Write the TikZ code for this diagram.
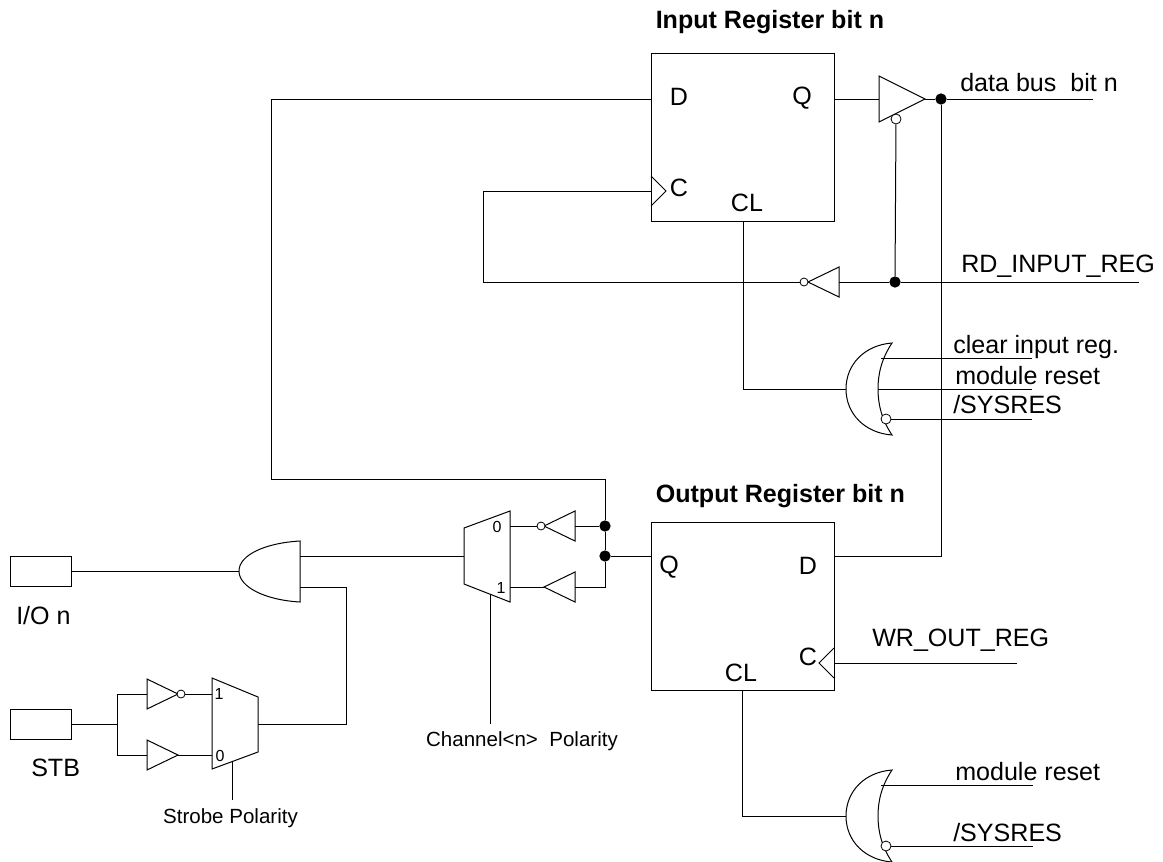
\documentclass[tikz,border=0pt]{standalone}
\usepackage{fontspec}
\setmainfont{Liberation Sans}
\newcommand\tribuf[5]{%
  \coordinate (#1-in) at (#2,#3);
  \coordinate (#1-out) at ({#2+#4},#3);
  \draw[gate] (#2,{#3-#5}) -- (#1-out) -- (#2,{#3+#5}) -- cycle;}
\newcommand\orgate[2]{% name, centre y; half height 46
  \coordinate (#1-out) at (846,#2);
  \coordinate (#1-back) at (878,#2);
  \draw[gate] (892,{#2-46}) .. controls (865,{#2-44}) and (846,{#2-25}) .. (846,#2)
     .. controls (846,{#2+25}) and (865,{#2+44}) .. (892,{#2+46})
     .. controls (882,{#2+31}) and (878,{#2+16}) .. (878,#2)
     .. controls (878,{#2-16}) and (882,{#2-31}) .. (892,{#2-46}) -- cycle;}
\tikzset{
  wire/.style={line width=0.75pt,black},
  gate/.style={line width=0.75pt,black},
  reg/.style={draw,line width=0.75pt,minimum width=137.25pt,minimum height=126pt,inner sep=0pt},
  pad/.style={draw,line width=0.75pt,minimum width=45.75pt,minimum height=22.5pt,inner sep=0pt},
  dot/.style={circle,fill=black,inner sep=0pt,minimum size=8.5pt},
  bub/.style={circle,draw,fill=white,line width=0.6pt,inner sep=0pt,minimum size=6pt},
  bubl/.style={circle,draw,fill=white,line width=0.6pt,inner sep=0pt,minimum size=7.5pt},
  txt/.style={inner sep=0pt,font=\fontsize{18.8}{20}\selectfont},
  ltxt/.style={txt,anchor=west},
  small/.style={inner sep=0pt,font=\fontsize{15.4}{17}\selectfont},
  tiny/.style={inner sep=0pt,font=\fontsize{12}{13}\selectfont},
  title/.style={inner sep=0pt,anchor=west,font=\bfseries\fontsize{18.8}{20}\selectfont},
}
\begin{document}
\begin{tikzpicture}[x=0.75pt,y=-0.75pt]
\useasboundingbox (0,0) rectangle (1163,861);

% registers
\node[reg] (inreg) at (742.5,137) {};
\node[reg] (outreg) at (742.5,606) {};
\node[title] (t1) at (655.5,22.5) {Input Register bit n};
\node[title] (t2) at (655.5,496) {Output Register bit n};
\node[txt] (ld) at (679,97) {D};
\node[txt] (lq) at (802,98) {Q};
\node[txt] (lc) at (679,188) {C};
\node[txt] (lcl) at (747,203) {CL};
\node[txt] (oq) at (669,567) {Q};
\node[txt] (od) at (808,566) {D};
\node[txt] (oc) at (808,657) {C};
\node[txt] (ocl) at (741,673) {CL};

% clock marks
\coordinate (ick) at (651,191);
\coordinate (ock) at (834,663);
\draw[gate] (651,176) -- (666,191) -- (651,206);
\draw[gate] (834,648) -- (819,663) -- (834,678);

% tri-state output driver
\tribuf{drv}{879}{99}{46}{23}
\node[bubl] (drvb) at (896,119) {};
\node[dot] (jbus) at (941,99) {};
\coordinate (busend) at (1093,99);
\draw[wire] (inreg.east |- drv-in) -- (drv-in);
\draw[wire] (drv-out) -- (jbus) -- (busend);
\node[ltxt] (lbus) at (960,83) {data bus\ \ bit n};

% read strobe
\tribuf{rinv}{839}{282}{-31}{15}
\node[bub] (rinvb) at (804,282) {};
\node[dot] (jrd) at (895,282) {};
\coordinate (rdend) at (1139,282);
\coordinate (ckcor) at (483,282);
\coordinate (ckcor2) at (483,191);
\draw[wire] (rinv-in) -- (jrd) -- (rdend);
\draw[wire] (jrd) -- (drvb);
\draw[wire] (rinvb) -- (ckcor) -- (ckcor2) -- (ick);
\node[ltxt] (lrd) at (961,266) {RD\_INPUT\_REG};

% input clear gate
\orgate{or1}{389}
\coordinate (or1a) at (881,358);
\coordinate (or1aend) at (1032,358);
\coordinate (or1bend) at (1032,389);
\coordinate (or1cend) at (1032,419);
\node[bubl] (or1c) at (886,419) {};
\draw[wire] (or1a) -- (or1aend);
\draw[wire] (or1-back) -- (or1bend);
\draw[wire] (or1c) -- (or1cend);
\coordinate (cl1) at (743,221);
\coordinate (cl1b) at (743,389);
\draw[wire] (cl1) -- (cl1b) -- (or1-out);
\node[ltxt] (l1a) at (953,347) {clear input reg.};
\node[ltxt] (l1b) at (955,376) {module reset};
\node[ltxt] (l1c) at (953,405) {/SYSRES};

% output clear gate
\orgate{or2}{816}
\coordinate (or2a) at (881,785);
\coordinate (or2aend) at (1033,785);
\coordinate (or2cend) at (1033,846);
\node[bubl] (or2c) at (886,846) {};
\draw[wire] (or2a) -- (or2aend);
\draw[wire] (or2c) -- (or2cend);
\coordinate (cl2) at (742,690);
\coordinate (cl2b) at (742,816);
\draw[wire] (cl2) -- (cl2b) -- (or2-out);
\node[ltxt] (l2a) at (955,772) {module reset};
\node[ltxt] (l2c) at (953,833) {/SYSRES};

% write strobe
\coordinate (wrend) at (1017,663);
\draw[wire] (ock) -- (wrend);
\node[ltxt] (lwr) at (872,640) {WR\_OUT\_REG};

% data bus to output register
\coordinate (buscor) at (941,556);
\draw[wire] (jbus) -- (buscor) -- (outreg.east |- buscor);

% channel polarity mux
\draw[gate] (464,528) -- (510,511) -- (510,602) -- (464,584) -- cycle;
\coordinate (m1out) at (464,556);
\coordinate (m1a) at (510,526);
\coordinate (m1b) at (510,587);
\coordinate (m1s) at (490,595);
\coordinate (m1send) at (490,724);
\node[tiny] (m10) at (497,527) {0};
\node[tiny] (m11) at (501,588) {1};
\draw[wire] (m1s) -- (m1send);
\node[small] (lch) at (522,741) {Channel<n>\ \ Polarity};

\tribuf{cinv}{575}{526}{-31}{15}
\node[bub] (cinvb) at (541,526) {};
\tribuf{cbuf}{575}{587}{-31}{15}
\node[dot] (j1) at (605,526) {};
\node[dot] (j2) at (605,556) {};
\coordinate (fb1) at (605,479);
\coordinate (fb2) at (271,479);
\coordinate (fb3) at (271,99);
\coordinate (jcor) at (605,587);
\draw[wire] (inreg.west |- fb3) -- (fb3) -- (fb2) -- (fb1) -- (j1) -- (j2) -- (jcor) -- (cbuf-in);
\draw[wire] (j2) -- (outreg.west |- j2);
\draw[wire] (j1) -- (cinv-in);
\draw[wire] (cinvb) -- (m1a);
\draw[wire] (cbuf-out) -- (m1b);

% AND gate
\draw[gate] (300,541) .. controls (265,543) and (239,555) .. (239,571)
   .. controls (239,587) and (265,600) .. (300,602) -- cycle;
\coordinate (anda) at (239,571);
\coordinate (andb) at (300,587);
\coordinate (ando) at (300,556);
\draw[wire] (ando) -- (m1out);

% pads
\node[pad] (pio) at (40.5,571) {};
\node[pad] (pstb) at (40.5,724) {};
\draw[wire] (pio) -- (anda);
\node[ltxt] (lio) at (16,616) {I/O n};
\node[ltxt] (lstb) at (31,768) {STB};

% strobe polarity mux
\draw[gate] (212,678) -- (258,697) -- (258,752) -- (212,769) -- cycle;
\coordinate (m2out) at (258,724);
\coordinate (m2a) at (212,694);
\coordinate (m2b) at (212,755);
\coordinate (m2s) at (232,762);
\coordinate (m2send) at (232,800);
\node[tiny] (m21) at (219,694) {1};
\node[tiny] (m20) at (220,756) {0};
\draw[wire] (m2s) -- (m2send);
\node[small] (lsp) at (230.5,818) {Strobe Polarity};
\coordinate (c1) at (346,724);
\coordinate (c2) at (346,587);
\draw[wire] (m2out) -- (c1) -- (c2) -- (andb);

\tribuf{sinv}{147}{694}{31}{15}
\node[bub] (sinvb) at (181,694) {};
\tribuf{sbuf}{147}{755}{31}{15}
\coordinate (sj) at (117,724);
\coordinate (sj1) at (117,694);
\coordinate (sj2) at (117,755);
\draw[wire] (pstb) -- (sj);
\draw[wire] (sj1) -- (sj2);
\draw[wire] (sj1) -- (sinv-in);
\draw[wire] (sj2) -- (sbuf-in);
\draw[wire] (sinvb) -- (m2a);
\draw[wire] (sbuf-out) -- (m2b);
\end{tikzpicture}
\end{document}
